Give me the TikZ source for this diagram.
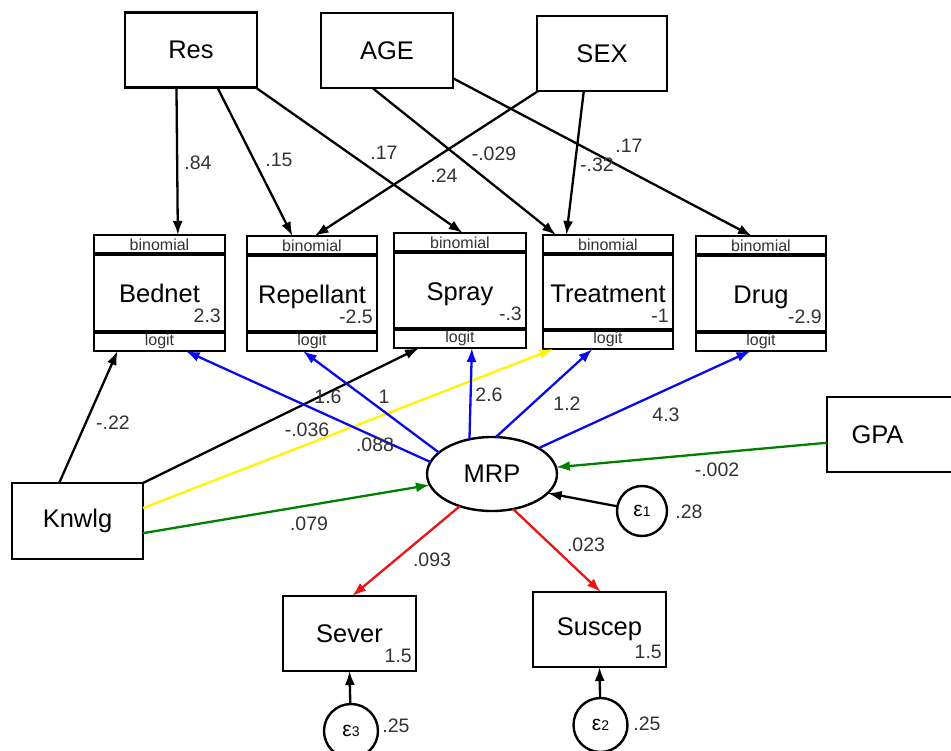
\documentclass[tikz,border=0pt]{standalone}
\usepackage{fontspec}
\setmainfont{Liberation Sans}
\usetikzlibrary{arrows.meta,calc,shapes.geometric}
\definecolor{semblue}{RGB}{10,10,230}
\definecolor{semgreen}{RGB}{0,128,0}
\definecolor{semred}{RGB}{235,20,20}
\definecolor{semyellow}{RGB}{255,245,0}
\newcommand{\GlmBox}[7]{%
  \node[gbox,minimum width=#4,minimum height=#5] (#1) at (#2,#3) {};
  \draw[bandline] ([yshift=-19pt]#1.north west) -- ([yshift=-19pt]#1.north east);
  \draw[bandline] ([yshift=19pt]#1.south west) -- ([yshift=19pt]#1.south east);
  \node[small] at ([yshift=-9.5pt]#1.north) {binomial};
  \node[small] at ([yshift=9.5pt]#1.south) {logit};
  \node[big,anchor=base] at ([yshift=-68pt]#1.north) {#6};
  \node[num,anchor=south east] at ([xshift=-4pt,yshift=-88pt]#1.north east) {#7};
}
\newcommand{\EpsText}[1]{{\fontsize{21}{21}\selectfont ε}{\fontsize{14}{14}\selectfont #1}}
\begin{document}
\begin{tikzpicture}[x=1pt,y=-1pt,
  box/.style={draw,line width=2.8pt,outer sep=0pt,inner sep=0pt,font=\fontsize{25.5}{25.5}\selectfont},
  gbox/.style={draw,line width=2.8pt,outer sep=0pt,inner sep=0pt},
  bandline/.style={line width=3.2pt},
  small/.style={font=\fontsize{16}{16}\selectfont,inner sep=0pt,text=black!80},
  big/.style={font=\fontsize{25.5}{25.5}\selectfont,inner sep=0pt},
  num/.style={font=\fontsize{19.5}{19.5}\selectfont,inner sep=0pt,text=black!80},
  lab/.style={font=\fontsize{19.5}{19.5}\selectfont,inner sep=0pt,text=black!80},
  errc/.style={draw,circle,line width=2.4pt,minimum size=52pt,inner sep=0pt,outer sep=0pt},
  arr/.style={line width=2.3pt,-{Latex[length=14pt,width=10pt]}},
]
\clip (0,0) rectangle (951,751);
\fill[white] (0,0) rectangle (951,751);

% exogenous boxes
\node[box,minimum width=132pt,minimum height=75pt] (res) at (191,50) {Res};
\node[box,minimum width=132pt,minimum height=75pt] (age) at (387,50.5) {AGE};
\node[box,minimum width=130pt,minimum height=75pt] (sex) at (602,53.5) {SEX};
\node[box,minimum width=131pt,minimum height=76pt] (knw) at (77.5,521) {Knwlg};
\node[box,minimum width=133pt,minimum height=75pt,text width=100pt,align=left] (gpa) at (893.5,434.5) {\hspace*{8pt}GPA};

% glm boxes
\GlmBox{bed}{159.5}{293}{131pt}{116pt}{Bednet}{2.3}
\GlmBox{rep}{312}{293.5}{130pt}{115pt}{Repellant}{-2.5}
\GlmBox{spr}{460}{290.5}{132pt}{115pt}{Spray}{-.3}
\GlmBox{trt}{608}{292}{130pt}{114pt}{Treatment}{-1}
\GlmBox{drg}{761}{293.5}{130pt}{115pt}{Drug}{-2.9}

% latent
\node[draw,ellipse,line width=2.4pt,minimum width=130pt,minimum height=74pt,inner sep=0pt,outer sep=0pt,font=\fontsize{25.5}{25.5}\selectfont] (mrp) at (492,474) {MRP};

% lower boxes
\node[box,minimum width=133pt,minimum height=75pt] (sev) at (349.5,633.5) {Sever};
\node[box,minimum width=133pt,minimum height=75pt] (sus) at (599.5,629.5) {Suscep};
\node[num,anchor=south east] at ([xshift=-4pt,yshift=8pt]sev.south east) {1.5};
\node[num,anchor=south east] at ([xshift=-4pt,yshift=8pt]sus.south east) {1.5};

% error terms
\node[errc,minimum size=50pt] (e1) at (642,511) {\EpsText{1}};
\node[errc,minimum size=54pt] (e3) at (351,731) {\EpsText{3}};
\node[errc,minimum size=54pt] (e2) at (600.5,725) {\EpsText{2}};

% top arrows
\draw[arr] ($(res.south west)!.39!(res.south east)$) -- ($(bed.north west)!.64!(bed.north east)$);
\draw[arr] ($(res.south west)!.70!(res.south east)$) -- ($(rep.north west)!.35!(rep.north east)$);
\draw[arr] ($(res.south west)!.99!(res.south east)$) -- ($(spr.north west)!.52!(spr.north east)$);
\draw[arr] ($(age.south west)!.39!(age.south east)$) -- ($(trt.north west)!.10!(trt.north east)$);
\draw[arr] ($(age.north east)!.87!(age.south east)$) -- ($(drg.north west)!.43!(drg.north east)$);
\draw[arr] ($(sex.south west)!.01!(sex.south east)$) -- ($(rep.north west)!.52!(rep.north east)$);
\draw[arr] ($(sex.south west)!.36!(sex.south east)$) -- ($(trt.north west)!.18!(trt.north east)$);

% Knwlg arrows
\draw[arr] ($(knw.north west)!.36!(knw.north east)$) -- ($(bed.south west)!.18!(bed.south east)$);
\draw[arr] (knw.north east) -- ($(spr.south west)!.19!(spr.south east)$);
\draw[arr,semyellow] ($(knw.north east)!.33!(knw.south east)$) -- ($(trt.south west)!.08!(trt.south east)$);
\draw[arr,semgreen] ($(knw.north east)!.66!(knw.south east)$) -- (mrp.190);

% MRP loadings
\draw[arr,semblue] (mrp.169) -- ($(bed.south west)!.70!(bed.south east)$);
\draw[arr,semblue] (mrp.158) -- ($(rep.south west)!.43!(rep.south east)$);
\draw[arr,semblue] (mrp.123) -- ($(spr.south west)!.59!(spr.south east)$);
\draw[arr,semblue] (mrp.84) -- ($(trt.south west)!.38!(trt.south east)$);
\draw[arr,semblue] (mrp.29) -- ($(drg.south west)!.42!(drg.south east)$);

\draw[arr,semgreen] ($(gpa.north west)!.61!(gpa.south west)$) -- (mrp.6);
\draw[arr] (e1) -- (mrp.-19);
\draw[arr,semred] (mrp.225) -- ($(sev.north west)!.52!(sev.north east)$);
\draw[arr,semred] (mrp.301) -- ($(sus.north west)!.51!(sus.north east)$);
\draw[arr] (e3) -- (sev.south);
\draw[arr] (e2) -- (sus.south);

% labels
\node[lab] at (198,163) {.84};
\node[lab] at (279,160) {.15};
\node[lab] at (384,153) {.17};
\node[lab] at (444,176) {.24};
\node[lab] at (494,154) {-.029};
\node[lab] at (629,146) {.17};
\node[lab] at (597,165) {-.32};
\node[lab] at (113,423) {-.22};
\node[lab] at (328,397) {1.6};
\node[lab] at (384,397) {1};
\node[lab] at (307,430) {-.036};
\node[lab] at (375,445) {.088};
\node[lab] at (309,524) {.079};
\node[lab] at (489,395) {2.6};
\node[lab] at (567,404) {1.2};
\node[lab] at (666,415) {4.3};
\node[lab] at (717,470) {-.002};
\node[lab] at (689,512) {.28};
\node[lab] at (432,560) {.093};
\node[lab] at (586,545) {.023};
\node[lab] at (396,726) {.25};
\node[lab] at (647,724) {.25};
\end{tikzpicture}
\end{document}
